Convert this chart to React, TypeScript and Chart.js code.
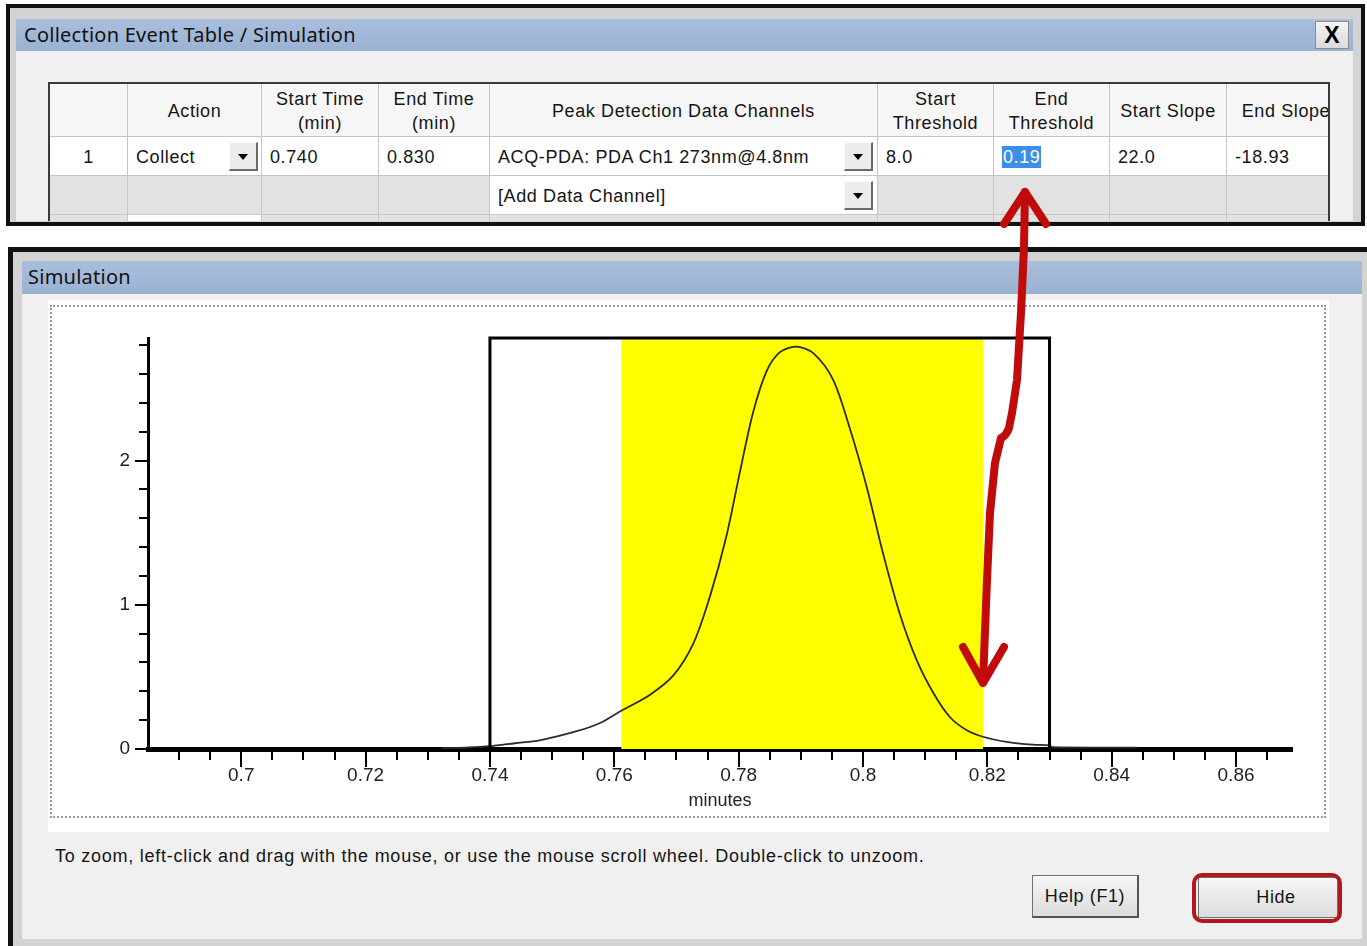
import React, { useEffect, useRef } from "react";
import { Chart, registerables } from "chart.js";

Chart.register(...registerables);

// ---- chart data ----
const peakMinutes = [
  0.7322, 0.736, 0.74, 0.744, 0.748, 0.7541, 0.7577, 0.7609, 0.7657, 0.7695,
  0.7727, 0.7754, 0.778, 0.7802, 0.7823, 0.7845, 0.7866, 0.7892, 0.792, 0.7952,
  0.7979, 0.8007, 0.8032, 0.8059, 0.8086, 0.8113, 0.814, 0.8167, 0.8193, 0.8231,
  0.8273, 0.83, 0.8305, 0.844,
];
const peakSignal = [
  0.005, 0.01, 0.02, 0.04, 0.06, 0.125, 0.18, 0.26, 0.375, 0.51,
  0.73, 1.06, 1.47, 1.92, 2.33, 2.62, 2.75, 2.79, 2.745, 2.56,
  2.22, 1.8, 1.36, 0.94, 0.62, 0.39, 0.22, 0.13, 0.085, 0.05,
  0.03, 0.025, 0.012, 0.01,
];
const collectWindow = [0.74, 0.83]; // Start Time / End Time (min)
const thresholdWindow = [0.7611, 0.8193]; // yellow collected region
const xRange = [0.685, 0.869];
const yRange = [0, 2.85];
const xLabelTicks = [0.7, 0.72, 0.74, 0.76, 0.78, 0.8, 0.82, 0.84, 0.86];
const xMinorStep = 0.005;
const yLabelTicks = [0, 1, 2];
const yMinorStep = 0.2;

// table
const tableHeaders = [
  [""], ["Action"], ["Start Time", "(min)"], ["End Time", "(min)"],
  ["Peak Detection Data Channels"], ["Start", "Threshold"], ["End", "Threshold"],
  ["Start Slope"], ["End Slope"],
];
const rowOne = ["1", "Collect", "0.740", "0.830", "ACQ-PDA: PDA Ch1 273nm@4.8nm", "8.0", "0.19", "22.0", "-18.93"];
const rowTwoChannel = "[Add Data Channel]";
const colEdges = [50, 128, 262, 379, 490, 878, 994, 1110, 1227, 1332];

const near = (v: number, step: number) => Math.abs(v / step - Math.round(v / step)) < 1e-6;

function buildSteps(from: number, to: number, step: number) {
  const out: number[] = [];
  const n0 = Math.ceil(from / step - 1e-9);
  const n1 = Math.floor(to / step + 1e-9);
  for (let n = n0; n <= n1; n++) out.push(+(n * step).toFixed(4));
  return out;
}

const tickMarks = {
  id: "tickMarks",
  afterDraw(chart: any) {
    const { ctx, chartArea } = chart;
    const xs = chart.scales.x;
    const ys = chart.scales.y;
    ctx.save();
    ctx.strokeStyle = "#000";
    ctx.lineWidth = 2;
    xs.ticks.forEach((t: any) => {
      const px = Math.round(xs.getPixelForValue(t.value));
      const major = xLabelTicks.some((m) => Math.abs(m - t.value) < 1e-6);
      ctx.beginPath();
      ctx.moveTo(px, chartArea.bottom);
      ctx.lineTo(px, chartArea.bottom + (major ? 18 : 11));
      ctx.stroke();
    });
    ys.ticks.forEach((t: any) => {
      const py = Math.round(ys.getPixelForValue(t.value));
      const major = yLabelTicks.some((m) => Math.abs(m - t.value) < 1e-6);
      ctx.beginPath();
      ctx.moveTo(chartArea.left, py);
      ctx.lineTo(chartArea.left - (major ? 13 : 9), py);
      ctx.stroke();
    });
    ctx.restore();
  },
};

function SimulationChart() {
  const ref = useRef<HTMLCanvasElement>(null);
  useEffect(() => {
    const chart = new Chart(ref.current as HTMLCanvasElement, {
      type: "scatter",
      data: {
        datasets: [
          {
            label: "threshold window",
            data: [
              { x: thresholdWindow[0], y: yRange[1] },
              { x: thresholdWindow[1], y: yRange[1] },
            ],
            showLine: true,
            fill: "origin",
            backgroundColor: "#ffff00",
            borderWidth: 0,
            pointRadius: 0,
            order: 3,
          },
          {
            label: "signal",
            data: peakMinutes.map((x, i) => ({ x, y: peakSignal[i] })),
            showLine: true,
            borderColor: "#2b2b2b",
            borderWidth: 1.8,
            pointRadius: 0,
            tension: 0.3,
            order: 2,
            clip: false,
          },
          {
            label: "collect event",
            data: [
              { x: collectWindow[0], y: 0 },
              { x: collectWindow[0], y: yRange[1] },
              { x: collectWindow[1], y: yRange[1] },
              { x: collectWindow[1], y: 0 },
            ],
            showLine: true,
            borderColor: "#000",
            borderWidth: 3,
            pointRadius: 0,
            order: 1,
            clip: false,
          },
        ],
      } as any,
      options: {
        animation: false,
        responsive: false,
        events: [],
        layout: { padding: { left: 0, right: 32, top: 31, bottom: 0 } },
        plugins: { legend: { display: false }, tooltip: { enabled: false } },
        scales: {
          x: {
            type: "linear",
            min: xRange[0],
            max: xRange[1],
            afterFit: (s: any) => { s.height = 66; },
            afterBuildTicks: (s: any) => {
              s.ticks = buildSteps(xRange[0] + 0.001, xRange[1], xMinorStep).map((v) => ({ value: v }));
            },
            grid: { display: false },
            border: { display: true, color: "#000", width: 5 },
            ticks: {
              autoSkip: false,
              maxRotation: 0,
              padding: 7,
              color: "#222",
              font: { family: "'Liberation Sans', Arial, sans-serif", size: 19 },
              callback: (v: any) =>
                xLabelTicks.some((m) => Math.abs(m - v) < 1e-6) ? String(+Number(v).toFixed(3)) : "",
            },
            title: {
              display: true,
              text: "minutes",
              color: "#222",
              font: { family: "'Liberation Sans', Arial, sans-serif", size: 18 },
              padding: { top: 0, bottom: 3 },
            },
          },
          y: {
            type: "linear",
            min: yRange[0],
            max: yRange[1],
            afterFit: (s: any) => { s.width = 96; },
            afterBuildTicks: (s: any) => {
              s.ticks = buildSteps(yRange[0], yRange[1], yMinorStep).map((v) => ({ value: v }));
            },
            grid: { display: false },
            border: { display: true, color: "#000", width: 3 },
            ticks: {
              autoSkip: false,
              padding: 10,
              color: "#222",
              font: { family: "'Liberation Sans', Arial, sans-serif", size: 19 },
              callback: (v: any) => (near(Number(v), 1) ? String(Math.round(Number(v))) : ""),
            },
          },
        },
      },
      plugins: [tickMarks],
    } as any);
    return () => chart.destroy();
  }, []);
  return (
    <canvas
      ref={ref}
      width={1272}
      height={508}
      style={{ position: "absolute", left: 52, top: 307, width: 1272, height: 508 }}
    />
  );
}

const abs = (left: number, top: number, width: number, height: number, extra: React.CSSProperties = {}): React.CSSProperties => ({
  position: "absolute", left, top, width, height, boxSizing: "border-box", ...extra,
});

const uiFont = "'Liberation Sans', Arial, sans-serif";
const titleFont = "'Noto Sans', 'Open Sans', sans-serif";
const cellSpacing = "0.6px";

function DropButton({ left, top }: { left: number; top: number }) {
  return (
    <div style={abs(left, top, 29, 29, {
      background: "#ececec",
      borderTop: "1px solid #fff", borderLeft: "1px solid #fff",
      borderRight: "2px solid #6a6a6a", borderBottom: "2px solid #6a6a6a",
    })}>
      <div style={{
        position: "absolute", left: 8, top: 11, width: 0, height: 0,
        borderLeft: "5px solid transparent", borderRight: "5px solid transparent",
        borderTop: "6px solid #000",
      }} />
    </div>
  );
}

function EventTable() {
  const cells: React.ReactNode[] = [];
  const x0 = 50;
  const rows = [
    { top: 0, h: 53 },
    { top: 53, h: 39 },
    { top: 92, h: 39 },
    { top: 131, h: 39 },
  ];
  for (let c = 0; c < 9; c++) {
    const left = colEdges[c] - x0;
    const w = colEdges[c + 1] - colEdges[c];
    cells.push(
      <div key={"h" + c} style={abs(left, rows[0].top, w, rows[0].h, {
        background: "#f6f6f6", borderRight: "1px solid #c6c6c6", borderBottom: "1px solid #c6c6c6",
        display: "flex", flexDirection: "column", alignItems: "center", justifyContent: "center",
        fontFamily: uiFont, fontSize: 18, lineHeight: "24px", color: "#151515", whiteSpace: "nowrap",
        letterSpacing: cellSpacing, paddingLeft: c === 8 ? 14 : 0, paddingTop: 2, overflow: "hidden",
      })}>
        {tableHeaders[c].map((l, i) => <div key={i}>{l}</div>)}
      </div>
    );
    const txt = rowOne[c];
    cells.push(
      <div key={"r1" + c} style={abs(left, rows[1].top, w, rows[1].h, {
        background: "#fff", borderRight: "1px solid #c6c6c6", borderBottom: "1px solid #c6c6c6",
        fontFamily: uiFont, fontSize: 18, color: "#151515", lineHeight: "40px", letterSpacing: cellSpacing,
        paddingLeft: c === 0 ? 0 : 8, textAlign: c === 0 ? "center" : "left", whiteSpace: "nowrap",
      })}>
        {c === 6 ? (
          <span style={{ background: "#3c8ee6", color: "#fff", padding: "1px 1px" }}>{txt}</span>
        ) : txt}
      </div>
    );
    cells.push(
      <div key={"r2" + c} style={abs(left, rows[2].top, w, rows[2].h, {
        background: c === 4 ? "#fff" : "#e2e2e2", borderRight: "1px solid #c6c6c6", borderBottom: "1px solid #c6c6c6",
        fontFamily: uiFont, fontSize: 18, color: "#151515", lineHeight: "40px", paddingLeft: 8, whiteSpace: "nowrap",
        letterSpacing: cellSpacing,
      })}>
        {c === 4 ? rowTwoChannel : ""}
      </div>
    );
    cells.push(
      <div key={"r3" + c} style={abs(left, rows[3].top, w, rows[3].h, {
        background: c === 1 ? "#fff" : "#e2e2e2", borderRight: "1px solid #c6c6c6",
      })} />
    );
  }
  return (
    <div style={abs(48, 82, 1282, 139, {
      border: "2px solid #3a3a3a", borderBottom: "none", overflow: "hidden", background: "#e2e2e2",
    })}>
      <div style={{ position: "absolute", left: 0, top: 0, width: 1280, height: 200 }}>
        {cells}
        <DropButton left={229 - x0} top={53 + 5} />
        <DropButton left={844 - x0} top={53 + 5} />
        <DropButton left={844 - x0} top={92 + 5} />
      </div>
    </div>
  );
}

export default function App() {
  return (
    <div style={abs(0, 0, 1367, 946, { background: "#fff", overflow: "hidden", fontFamily: uiFont })}>
      {/* ---------- top window ---------- */}
      <div style={abs(6, 4, 1359, 222, { border: "4px solid #111", background: "#d3d3d3" })} />
      <div style={abs(16, 19, 1337, 32, { background: "linear-gradient(#a9bedb, #9ab2d3)" })}>
        <div style={{ position: "absolute", left: 8, top: 2, fontFamily: titleFont, fontSize: 20, letterSpacing: "0.25px", color: "#111", whiteSpace: "nowrap" }}>
          Collection Event Table / Simulation
        </div>
      </div>
      <div style={abs(1315, 21, 34, 28, {
        background: "linear-gradient(#f4f4f4, #dadada)", border: "1px solid #8a8a8a",
        fontFamily: "'Liberation Sans', Arial, sans-serif", fontWeight: 700, fontSize: 23,
        textAlign: "center", lineHeight: "26px", color: "#000",
      })}>X</div>
      <div style={abs(16, 51, 1337, 170, { background: "#f0f0f0" })} />
      <EventTable />

      {/* ---------- bottom window ---------- */}
      <div style={abs(8, 247, 1372, 720, { border: "5px solid #111", background: "#d3d3d3" })} />
      <div style={abs(22, 261, 1340, 33, { background: "linear-gradient(#a9bedb, #9ab2d3)" })}>
        <div style={{ position: "absolute", left: 6, top: 2, fontFamily: titleFont, fontSize: 20, letterSpacing: "0.25px", color: "#111" }}>
          Simulation
        </div>
      </div>
      <div style={abs(22, 294, 1340, 645, { background: "#f0f0f0" })} />
      <div style={abs(48, 300, 1281, 532, { background: "#fff" })} />
      <div style={abs(50, 305, 1276, 513, { border: "2px dotted #9a9a9a" })} />
      <SimulationChart />
      <div style={{ position: "absolute", left: 55, top: 846, fontFamily: uiFont, fontSize: 18, letterSpacing: "0.75px", color: "#151515", whiteSpace: "nowrap" }}>
        To zoom, left-click and drag with the mouse, or use the mouse scroll wheel. Double-click to unzoom.
      </div>
      <div style={abs(1032, 875, 107, 43, {
        background: "linear-gradient(#f6f6f6, #dcdcdc)", border: "1px solid #707070",
        borderRight: "2px solid #555", borderBottom: "2px solid #555",
        fontFamily: uiFont, fontSize: 18, letterSpacing: "0.6px", textAlign: "center", lineHeight: "40px", color: "#151515",
      })}>Help (F1)</div>
      <div style={abs(1198, 877, 140, 41, {
        background: "linear-gradient(#f6f6f6, #dcdcdc)", border: "1px solid #707070",
        fontFamily: uiFont, fontSize: 18, letterSpacing: "0.6px", textAlign: "center", lineHeight: "38px", color: "#151515",
        paddingLeft: 16,
      })}>Hide</div>
      <div style={abs(1192, 873, 150, 50, { border: "4px solid #b5161b", borderRadius: 10 })} />

      {/* ---------- red double arrow annotation ---------- */}
      <svg width={1367} height={946} style={{ position: "absolute", left: 0, top: 0, pointerEvents: "none" }}>
        <g fill="none" stroke="#c10a0a" strokeWidth={8} strokeLinecap="round" strokeLinejoin="round">
          <path d="M1025,192 L1024,247 L1021,313 L1017,380 L1012,413 L1009,428 Q1006,436 1001,438 L995,463 L990,513 L987,580 L983,682" />
          <path d="M1004,224 L1025,192 L1046,224" />
          <path d="M963,647 L983,683 L1004,647" />
        </g>
      </svg>
    </div>
  );
}
